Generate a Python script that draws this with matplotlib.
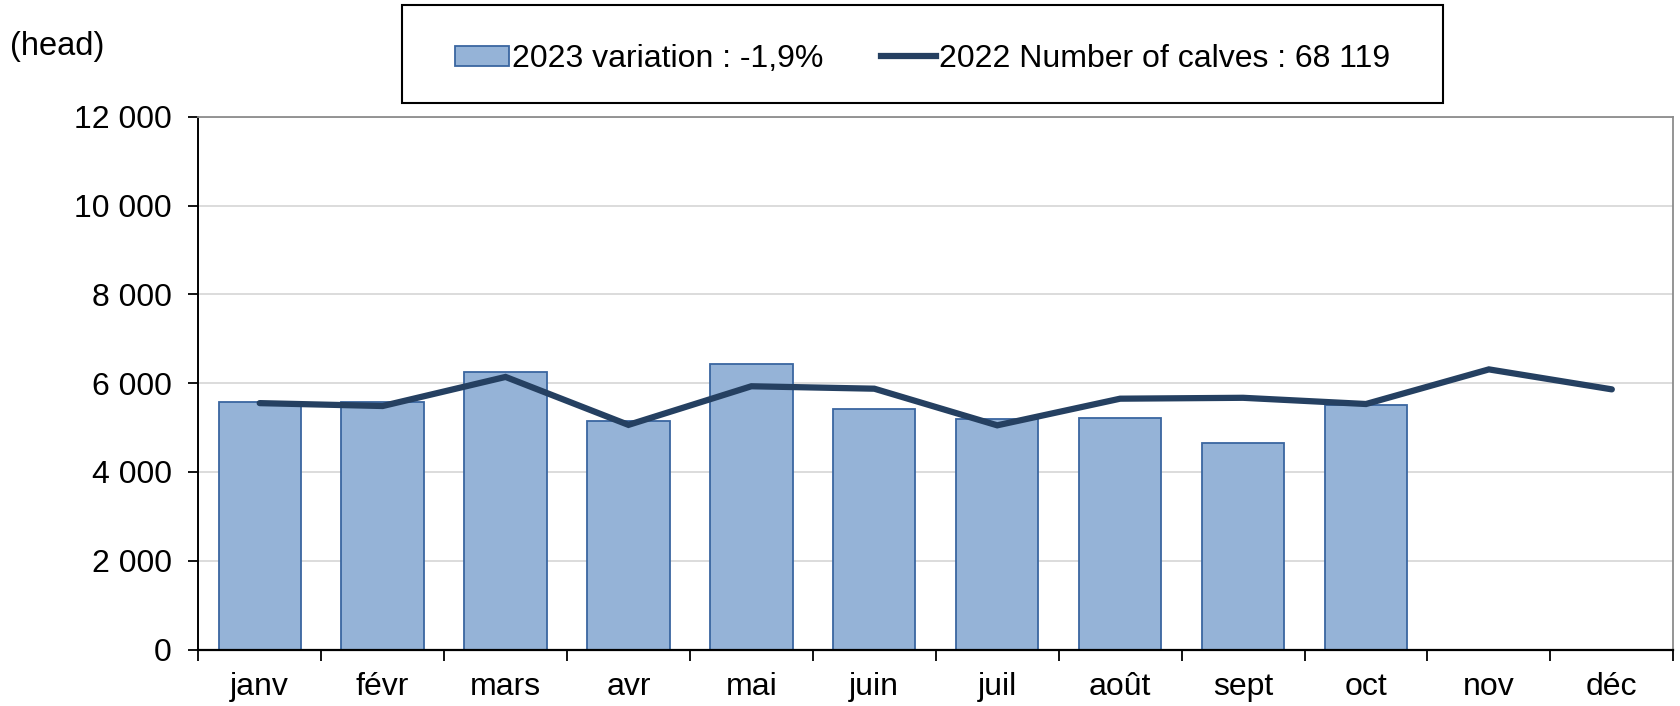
import matplotlib.pyplot as plt
import matplotlib.patches as mpatches
from matplotlib.lines import Line2D
from matplotlib.ticker import FuncFormatter, FixedLocator
import numpy as np

plt.rcParams['font.family'] = ['Liberation Sans', 'DejaVu Sans']

# Data
months = ['janv', 'févr', 'mars', 'avr', 'mai', 'juin',
          'juil', 'août', 'sept', 'oct', 'nov', 'déc']
calves_2023 = [5585, 5580, 6245, 5155, 6425, 5410, 5190, 5210, 4660, 5500]
calves_2022 = [5550, 5485, 6140, 5060, 5930, 5875, 5050, 5650, 5670, 5530, 6310, 5860]
label_2023 = '2023 variation : -1,9%'
label_2022 = '2022 Number of calves : 68 119'

bar_fill = '#95B3D7'
bar_edge = '#3A66A0'
line_col = '#254061'

fig = plt.figure(figsize=(16.8, 7.06), dpi=100, facecolor='w')
ax = fig.add_axes([0.118, 0.080, 0.878, 0.7546])

x = np.arange(len(months))
ax.bar(x[:len(calves_2023)], calves_2023, width=0.67, color=bar_fill,
       edgecolor=bar_edge, linewidth=1.3, zorder=2)
ax.plot(x, calves_2022, color=line_col, linewidth=4.5, zorder=3,
        solid_capstyle='round', solid_joinstyle='miter')

# Axes decoration
ax.set_xlim(-0.5, len(months) - 0.5)
ax.set_ylim(0, 12000)
ax.set_yticks(np.arange(0, 12001, 2000))
ax.yaxis.set_major_formatter(FuncFormatter(lambda v, p: f'{int(v):,}'.replace(',', ' ')))
ax.grid(axis='y', color='#D9D9D9', linewidth=1.3, zorder=0)
ax.set_axisbelow(True)

ax.set_xticks(x)
ax.set_xticklabels(months)
ax.xaxis.set_minor_locator(FixedLocator(np.arange(-0.5, len(months), 1.0)))
ax.tick_params(axis='x', which='major', length=0, pad=16, labelsize=23)
ax.tick_params(axis='x', which='minor', length=8, width=1.3, direction='out')
ax.tick_params(axis='y', length=7, width=1.3, direction='out', pad=12, labelsize=23)

for side in ['top', 'right']:
    ax.spines[side].set_color('#8C8C8C')
    ax.spines[side].set_linewidth(1.3)
ax.spines['left'].set_linewidth(1.4)
ax.spines['bottom'].set_linewidth(1.6)

fig.text(10 / 1680, 1 - 46 / 706, '(head)', fontsize=23.5, va='center', ha='left')

# Legend with a framed box at the top
box = mpatches.Rectangle((402 / 1680, 1 - 103 / 706), 1041 / 1680, 98 / 706,
                         transform=fig.transFigure, fill=False,
                         edgecolor='black', linewidth=1.5)
fig.patches.append(box)
handles = [mpatches.Patch(facecolor=bar_fill, edgecolor=bar_edge, linewidth=1.3),
           Line2D([0], [0], color=line_col, linewidth=4.5)]
fig.legend(handles, [label_2023, label_2022], loc='center',
           bbox_to_anchor=(922.5 / 1680, 1 - 59 / 706), ncol=2, frameon=False,
           fontsize=23, handlelength=1.7, handleheight=0.6, handletextpad=0.1,
           columnspacing=1.8)

plt.savefig('out.png', dpi=100)
